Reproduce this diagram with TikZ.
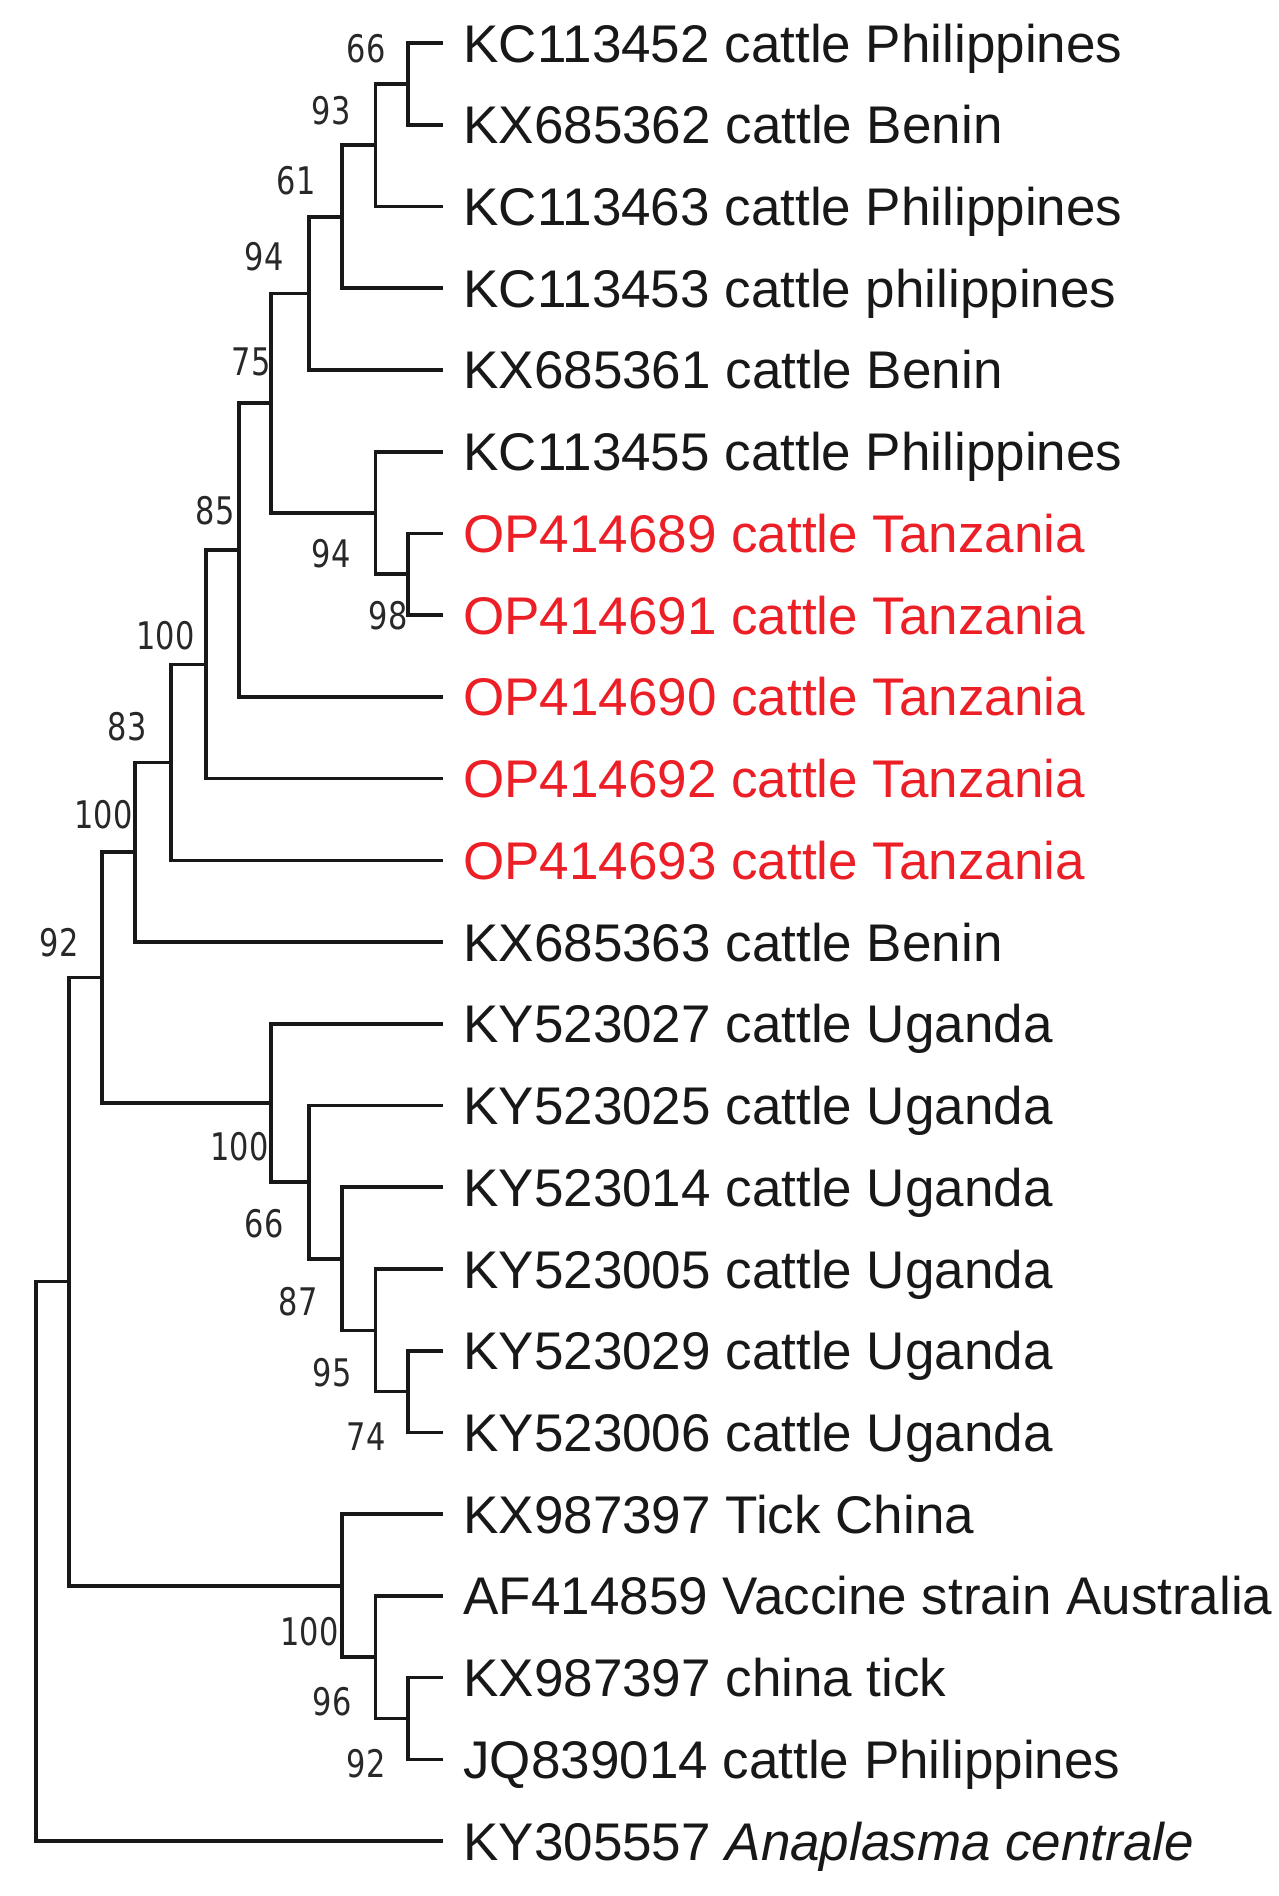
\documentclass[tikz,border=0pt]{standalone}
\usepackage{fontspec}
\usepackage{graphicx}
\setmainfont{Liberation Sans}
\newfontfamily\supfont{DejaVu Sans}
\definecolor{tzred}{RGB}{236,30,38}
\definecolor{ink}{RGB}{24,24,24}
\definecolor{supink}{RGB}{40,40,40}
\newcommand{\suplab}[1]{\scalebox{0.8}[1]{#1}}
\begin{document}
\begin{tikzpicture}[x=0.5pt,y=-0.5pt,
  branch/.style={draw=ink, line width=1.8pt, line join=miter},
  taxon/.style={anchor=base west, inner sep=0pt, text=ink, font=\fontsize{26.5}{26.5}\selectfont},
  redtaxon/.style={taxon, text=tzred},
  supp/.style={anchor=east, inner sep=0pt, text=supink, font=\supfont\fontsize{19}{19}\selectfont}]
\fill[white] (0,0) rectangle (1279,1896);
\useasboundingbox (0,0) rectangle (1279,1896);
% tip ends
\coordinate (t1) at (443,43.0);
\coordinate (t2) at (443,124.7);
\coordinate (t3) at (443,206.5);
\coordinate (t4) at (443,288.2);
\coordinate (t5) at (443,369.9);
\coordinate (t6) at (443,451.7);
\coordinate (t7) at (443,533.4);
\coordinate (t8) at (443,615.1);
\coordinate (t9) at (443,696.8);
\coordinate (t10) at (443,778.6);
\coordinate (t11) at (443,860.3);
\coordinate (t12) at (443,942.0);
\coordinate (t13) at (443,1023.8);
\coordinate (t14) at (443,1105.5);
\coordinate (t15) at (443,1187.2);
\coordinate (t16) at (443,1269.0);
\coordinate (t17) at (443,1350.7);
\coordinate (t18) at (443,1432.4);
\coordinate (t19) at (443,1514.1);
\coordinate (t20) at (443,1595.9);
\coordinate (t21) at (443,1677.6);
\coordinate (t22) at (443,1759.3);
\coordinate (t23) at (443,1841.1);
% internal nodes
\coordinate (nA) at (408,83.85);
\coordinate (nB) at (375.5,145.2);
\coordinate (nC) at (342,216.7);
\coordinate (nD) at (309,293.3);
\coordinate (nH) at (408,574.25);
\coordinate (nF) at (375.5,513.0);
\coordinate (nE) at (271,403.1);
\coordinate (nG) at (239,550.0);
\coordinate (nI) at (206,664.3);
\coordinate (nJ) at (171,762.3);
\coordinate (nK) at (135,852.2);
\coordinate (nR) at (408,1391.6);
\coordinate (nQ) at (375.5,1330.3);
\coordinate (nP) at (342,1258.8);
\coordinate (nO) at (309,1182.1);
\coordinate (nM) at (271,1103.0);
\coordinate (nL) at (102,977.6);
\coordinate (nU) at (408,1718.5);
\coordinate (nT) at (375.5,1657.2);
\coordinate (nS) at (342,1585.7);
\coordinate (nN) at (69,1281.6);
\coordinate (nV) at (36,1561.4);
% branches
\draw[branch] (nA) |- (t1); \draw[branch] (nA) |- (t2);
\draw[branch] (nB) |- (nA); \draw[branch] (nB) |- (t3);
\draw[branch] (nC) |- (nB); \draw[branch] (nC) |- (t4);
\draw[branch] (nD) |- (nC); \draw[branch] (nD) |- (t5);
\draw[branch] (nH) |- (t7); \draw[branch] (nH) |- (t8);
\draw[branch] (nF) |- (t6); \draw[branch] (nF) |- (nH);
\draw[branch] (nE) |- (nD); \draw[branch] (nE) |- (nF);
\draw[branch] (nG) |- (nE); \draw[branch] (nG) |- (t9);
\draw[branch] (nI) |- (nG); \draw[branch] (nI) |- (t10);
\draw[branch] (nJ) |- (nI); \draw[branch] (nJ) |- (t11);
\draw[branch] (nK) |- (nJ); \draw[branch] (nK) |- (t12);
\draw[branch] (nR) |- (t17); \draw[branch] (nR) |- (t18);
\draw[branch] (nQ) |- (t16); \draw[branch] (nQ) |- (nR);
\draw[branch] (nP) |- (t15); \draw[branch] (nP) |- (nQ);
\draw[branch] (nO) |- (t14); \draw[branch] (nO) |- (nP);
\draw[branch] (nM) |- (t13); \draw[branch] (nM) |- (nO);
\draw[branch] (nL) |- (nK); \draw[branch] (nL) |- (nM);
\draw[branch] (nU) |- (t21); \draw[branch] (nU) |- (t22);
\draw[branch] (nT) |- (t20); \draw[branch] (nT) |- (nU);
\draw[branch] (nS) |- (t19); \draw[branch] (nS) |- (nT);
\draw[branch] (nN) |- (nL); \draw[branch] (nN) |- (nS);
\draw[branch] (nV) |- (nN); \draw[branch] (nV) |- (t23);
% taxon labels
\node[taxon] (l1) at (463,62.0) {KC113452 cattle Philippines};
\node[taxon] (l2) at (463,143.7) {KX685362 cattle Benin};
\node[taxon] (l3) at (463,225.5) {KC113463 cattle Philippines};
\node[taxon] (l4) at (463,307.2) {KC113453 cattle philippines};
\node[taxon] (l5) at (463,388.9) {KX685361 cattle Benin};
\node[taxon] (l6) at (463,470.7) {KC113455 cattle Philippines};
\node[redtaxon] (l7) at (463,552.4) {OP414689 cattle Tanzania};
\node[redtaxon] (l8) at (463,634.1) {OP414691 cattle Tanzania};
\node[redtaxon] (l9) at (463,715.8) {OP414690 cattle Tanzania};
\node[redtaxon] (l10) at (463,797.6) {OP414692 cattle Tanzania};
\node[redtaxon] (l11) at (463,879.3) {OP414693 cattle Tanzania};
\node[taxon] (l12) at (463,961.0) {KX685363 cattle Benin};
\node[taxon] (l13) at (463,1042.8) {KY523027 cattle Uganda};
\node[taxon] (l14) at (463,1124.5) {KY523025 cattle Uganda};
\node[taxon] (l15) at (463,1206.2) {KY523014 cattle Uganda};
\node[taxon] (l16) at (463,1288.0) {KY523005 cattle Uganda};
\node[taxon] (l17) at (463,1369.7) {KY523029 cattle Uganda};
\node[taxon] (l18) at (463,1451.4) {KY523006 cattle Uganda};
\node[taxon] (l19) at (463,1533.1) {KX987397 Tick China};
\node[taxon] (l20) at (463,1614.9) {AF414859 Vaccine strain Australia};
\node[taxon] (l21) at (463,1696.6) {KX987397 china tick};
\node[taxon] (l22) at (463,1778.3) {JQ839014 cattle Philippines};
\node[taxon] (l23) at (463,1860.1) {KY305557 \textit{Anaplasma centrale}};
% support values
\node[supp] (sA) at (386,49) {\suplab{66}};
\node[supp] (sB) at (351,111) {\suplab{93}};
\node[supp] (sC) at (316,181) {\suplab{61}};
\node[supp] (sD) at (284,257) {\suplab{94}};
\node[supp] (sE) at (271,362) {\suplab{75}};
\node[supp] (sF) at (351,554) {\suplab{94}};
\node[supp] (sH) at (408,616) {\suplab{98}};
\node[supp] (sG) at (235,511) {\suplab{85}};
\node[supp] (sI) at (195,636) {\suplab{100}};
\node[supp] (sJ) at (147,727) {\suplab{83}};
\node[supp] (sK) at (133,815) {\suplab{100}};
\node[supp] (sN) at (79,943) {\suplab{92}};
\node[supp] (sM) at (269,1147) {\suplab{100}};
\node[supp] (sO) at (284,1224) {\suplab{66}};
\node[supp] (sP) at (318,1302) {\suplab{87}};
\node[supp] (sQ) at (352,1373) {\suplab{95}};
\node[supp] (sR) at (386,1437) {\suplab{74}};
\node[supp] (sS) at (339,1632) {\suplab{100}};
\node[supp] (sT) at (352,1702) {\suplab{96}};
\node[supp] (sU) at (386,1764) {\suplab{92}};
\end{tikzpicture}
\end{document}
